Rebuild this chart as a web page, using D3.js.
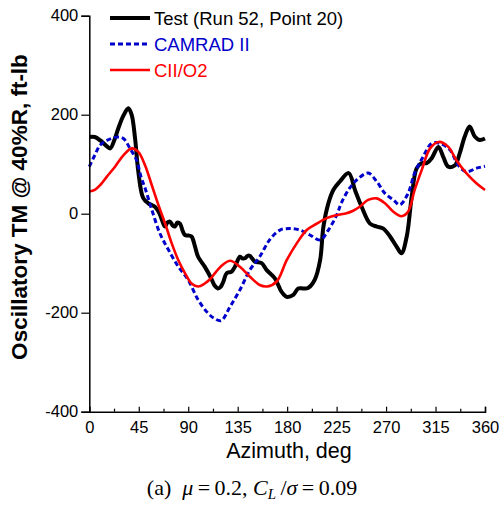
<!DOCTYPE html>
<html>
<head>
<meta charset="utf-8">
<script src="https://cdn.jsdelivr.net/npm/d3@7"></script>
<style>
  body { margin: 0; background: #fff; }
  svg { display: block; }
  .tick text { font-family: "Liberation Sans", Arial, sans-serif; }
</style>
</head>
<body>
<svg id="chart" width="502" height="506"></svg>
<script>
// azimuth (deg), oscillatory torsion moment (ft-lb)
var testData = [[0,155],[5,155],[10,148],[15,138],[19,132],[23,150],[26.5,173],[31,198],[35.5,213],[38.5,200],
  [41.6,153],[44.6,85],[49,32],[53.7,21],[59.7,14],[64,0],[68.8,-26],[71,-18],[73.4,-16],[76,-24],[78,-26],
  [80,-18],[82.5,-20],[85,-35],[87,-43],[90,-44],[93,-46],[96,-65],[99,-87],[105,-107],[111,-131],[114,-145],
  [117,-151],[119.5,-148],[122,-137],[125,-120],[129.5,-117],[132.5,-107],[137,-87],[139,-90],[141.6,-90],
  [144,-85],[146,-85],[148,-90],[150.7,-97],[156.8,-100],[161.4,-114],[169,-131],[175,-158],[179.6,-168],
  [185.6,-164],[190,-151],[194.7,-151],[199,-150],[205,-134],[210,-94],[213,-26],[217.5,21],[222,48],
  [228,65],[236,82],[241.7,48],[247.8,14],[255.4,-20],[261.5,-26],[267.5,-30],[273.6,-46],[279.7,-67],
  [284,-80],[288.8,-46],[293.3,34],[297.9,92],[302.4,102],[307,102],[311.5,112],[317.6,135],[322,115],
  [326.6,95],[332.7,98],[337,122],[341.6,156],[346,176],[350.7,156],[355,149],[360,152]];

var camradData = [[0,95],[5,118],[10,139],[17,149],[26,155],[31,152],[37,132],[43,108],[47,75],[51,50],
  [57,7],[64.3,-40],[72,-73],[81,-107],[90,-134],[99,-174],[108,-201],[114,-212],[120,-216],[128,-188],
  [137,-154],[146,-114],[155,-87],[164,-53],[173.5,-33],[182.6,-30],[191.6,-33],[200.7,-43],[210,-53],
  [217.5,-33],[225,-3],[230,25],[237,52],[244.7,71],[253.7,82],[261.5,65],[269,41],[276.6,28],[282.5,18],
  [290,41],[296,82],[303.7,115],[311.5,142],[319,142],[328,129],[335.7,98],[343,85],[352.4,92],[360,96]];

var ciiData = [[0,45],[5,48],[10,58],[16,75],[23.4,95],[31,118],[38.6,132],[44.6,125],[50.7,98],[56.8,58],
  [62.8,18],[69,-20],[75,-60],[81,-94],[87,-120],[93,-141],[99,-147],[105,-141],[110,-132],[114,-121],
  [119,-108],[128,-95],[137,-107],[146,-127],[155,-144],[162,-147],[170.5,-137],[179.6,-94],[188.7,-60],
  [197.8,-33],[206.9,-20],[216,-9],[225,-3],[234,1],[240,6],[246,14],[253.7,28],[261.5,31],[269,21],
  [276.6,4],[284,-5],[290,4],[296,48],[302.4,88],[310,132],[318,145],[326.6,135],[334,108],[343,82],
  [352.4,61],[360,48]];

var xTicks = [0, 45, 90, 135, 180, 225, 270, 315, 360];
var xMinorTicks = [22.5, 67.5, 112.5, 157.5, 202.5, 247.5, 292.5, 337.5];
var yTicks = [-400, -200, 0, 200, 400];

var seriesNames = ['Test (Run 52, Point 20)', 'CAMRAD II', 'CII/O2'];

var svg = d3.select('#chart');
var plotLeft = 89.3, plotRight = 485, plotTop = 15.7, plotBottom = 411.7;

var x = d3.scaleLinear().domain([0, 360]).range([plotLeft, plotRight]);
var y = d3.scaleLinear().domain([-400, 400]).range([plotBottom, plotTop]);

var series = [
  { name: seriesNames[0], data: testData, color: '#000', width: 4, dash: null },
  { name: seriesNames[1], data: camradData, color: '#0000cc', width: 3, dash: '5,3' },
  { name: seriesNames[2], data: ciiData, color: '#ff0000', width: 2.6, dash: null }
];

var line = d3.line()
  .x(function (d) { return x(d[0]); })
  .y(function (d) { return y(d[1]); })
  .curve(d3.curveCatmullRom.alpha(0.5));

// plain hyphen for negatives, like the original
var fmt = function (d) { return String(d); };

// Draw test line first, predictions on top
series.forEach(function (s) {
  svg.append('path')
    .datum(s.data)
    .attr('fill', 'none')
    .attr('stroke', s.color)
    .attr('stroke-width', s.width)
    .attr('stroke-linejoin', 'round')
    .attr('stroke-dasharray', s.dash)
    .attr('d', line);
});

// Axes
var xAxis = svg.append('g')
  .attr('transform', 'translate(0,' + plotBottom + ')')
  .call(d3.axisBottom(x).tickValues(xTicks).tickSize(-5).tickPadding(10).tickFormat(fmt));
xAxis.select('.domain').attr('stroke-width', 1.5);
xAxis.selectAll('.tick line').attr('stroke-width', 1.2);
xAxis.selectAll('.tick text').attr('font-size', 16.5).attr('fill', '#000');

var xMinor = svg.append('g')
  .attr('transform', 'translate(0,' + plotBottom + ')')
  .call(d3.axisBottom(x).tickValues(xMinorTicks).tickSize(-3).tickFormat(''));
xMinor.select('.domain').remove();
xMinor.selectAll('.tick line').attr('stroke-width', 1.2);

var yAxis = svg.append('g')
  .attr('transform', 'translate(' + plotLeft + ',0)')
  .call(d3.axisLeft(y).tickValues(yTicks).tickSize(8).tickPadding(3).tickFormat(fmt));
yAxis.select('.domain').attr('stroke-width', 1.5);
yAxis.selectAll('.tick line').attr('stroke-width', 1.2);
yAxis.selectAll('.tick text').attr('font-size', 16.5).attr('fill', '#000');

// Axis titles
svg.append('text')
  .attr('x', 289).attr('y', 458)
  .attr('text-anchor', 'middle')
  .attr('font-family', '"Liberation Sans", Arial, sans-serif')
  .attr('font-size', 21.5)
  .text('Azimuth, deg');

svg.append('text')
  .attr('transform', 'translate(27,' + 207 + ') rotate(-90)')
  .attr('text-anchor', 'middle')
  .attr('font-family', '"Liberation Sans", Arial, sans-serif')
  .attr('font-weight', 'bold')
  .attr('font-size', 22.5)
  .text('Oscillatory TM @ 40%R, ft-lb');

// Caption
var cap = svg.append('text')
  .attr('x', 252).attr('y', 495)
  .attr('text-anchor', 'middle')
  .attr('font-family', '"Liberation Serif", "Times New Roman", serif')
  .attr('font-size', 22);
cap.append('tspan').text('(a)\u00a0\u00a0');
cap.append('tspan').attr('font-style', 'italic').text('\u03bc');
cap.append('tspan').text('\u2009=\u20090.2,\u00a0');
cap.append('tspan').attr('font-style', 'italic').text('C');
cap.append('tspan').attr('font-style', 'italic').attr('font-size', 15).attr('dy', 4).text('L');
cap.append('tspan').attr('dy', -4).text('\u2009/');
cap.append('tspan').attr('font-style', 'italic').text('\u03c3');
cap.append('tspan').text('\u2009=\u20090.09');

// Legend
var legend = svg.append('g');
series.forEach(function (s, i) {
  var ly = 18 + i * 26;
  legend.append('line')
    .attr('x1', 110).attr('x2', 150)
    .attr('y1', ly).attr('y2', ly)
    .attr('stroke', s.color)
    .attr('stroke-width', s.width)
    .attr('stroke-dasharray', s.dash);
  legend.append('text')
    .attr('x', 154).attr('y', ly + 6.5)
    .attr('font-family', '"Liberation Sans", Arial, sans-serif')
    .attr('font-size', 18.5)
    .attr('fill', i === 0 ? '#000' : s.color)
    .text(s.name);
});
</script>
</body>
</html>
